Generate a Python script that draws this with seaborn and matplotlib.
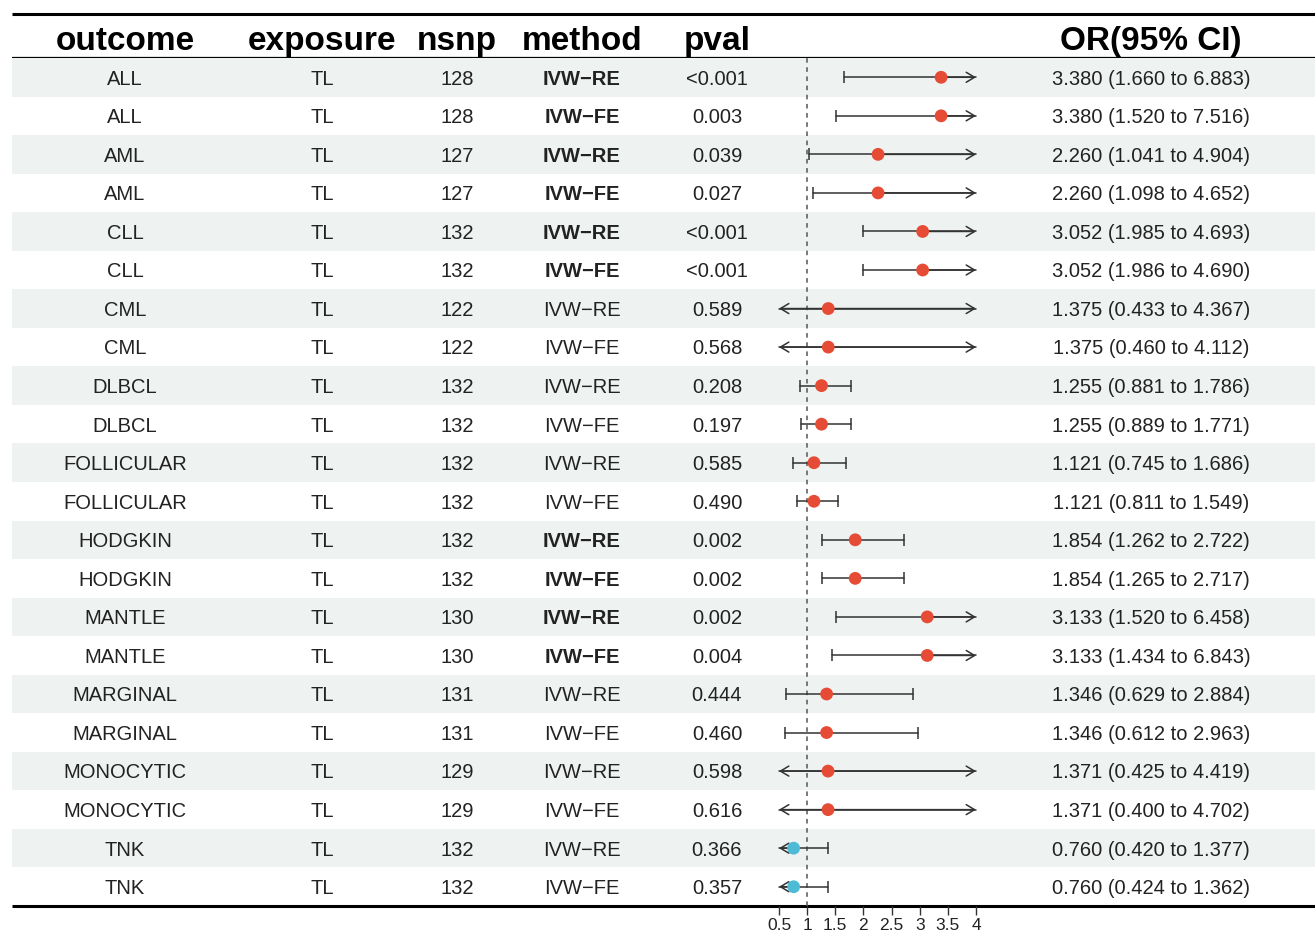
import numpy as np
import pandas as pd
import matplotlib
matplotlib.use("Agg")
import matplotlib.pyplot as plt
import seaborn as sns

outcome = ["ALL", "ALL", "AML", "AML", "CLL", "CLL", "CML", "CML", "DLBCL", "DLBCL",
           "FOLLICULAR", "FOLLICULAR", "HODGKIN", "HODGKIN", "MANTLE", "MANTLE",
           "MARGINAL", "MARGINAL", "MONOCYTIC", "MONOCYTIC", "TNK", "TNK"]
exposure = ["TL"] * 22
nsnp = [128, 128, 127, 127, 132, 132, 122, 122, 132, 132, 132, 132,
        132, 132, 130, 130, 131, 131, 129, 129, 132, 132]
method = ["IVW\u2212RE", "IVW\u2212FE"] * 11
pval = ["<0.001", "0.003", "0.039", "0.027", "<0.001", "<0.001", "0.589", "0.568",
        "0.208", "0.197", "0.585", "0.490", "0.002", "0.002", "0.002", "0.004",
        "0.444", "0.460", "0.598", "0.616", "0.366", "0.357"]
odds = [3.380, 3.380, 2.260, 2.260, 3.052, 3.052, 1.375, 1.375, 1.255, 1.255, 1.121,
        1.121, 1.854, 1.854, 3.133, 3.133, 1.346, 1.346, 1.371, 1.371, 0.760, 0.760]
lower = [1.660, 1.520, 1.041, 1.098, 1.985, 1.986, 0.433, 0.460, 0.881, 0.889, 0.745,
         0.811, 1.262, 1.265, 1.520, 1.434, 0.629, 0.612, 0.425, 0.400, 0.420, 0.424]
upper = [6.883, 7.516, 4.904, 4.652, 4.693, 4.690, 4.367, 4.112, 1.786, 1.771, 1.686,
         1.549, 2.722, 2.717, 6.458, 6.843, 2.884, 2.963, 4.419, 4.702, 1.377, 1.362]
xticks = [0.5, 1, 1.5, 2, 2.5, 3, 3.5, 4]
xtick_labels = ["0.5", "1", "1.5", "2", "2.5", "3", "3.5", "4"]

df = pd.DataFrame({"outcome": outcome, "exposure": exposure, "nsnp": nsnp,
                   "method": method, "pval": pval, "OR": odds,
                   "lo": lower, "hi": upper})
df["row"] = np.arange(len(df))
df["sig"] = [p.startswith("<") or float(p) < 0.05 for p in df["pval"]]
df["dir"] = np.where(df["OR"] > 1, "up", "down")
df["label"] = [f"{o:.3f} ({l:.3f} to {h:.3f})" for o, l, h in zip(df.OR, df.lo, df.hi)]

sns.set_theme(style="white")
plt.rcParams['font.family'] = ['Liberation Sans', 'DejaVu Sans']

W, H = 1315, 936
n = len(df)
top, bottom = 58, 906
xmin, xmax = 0.5, 4

fig = plt.figure(figsize=(W / 100, H / 100), dpi=100)

# frame axes in pixels for rules and header
frame = fig.add_axes([0, 0, 1, 1])
frame.set_xlim(0, W)
frame.set_ylim(H, 0)
frame.axis("off")

# table body axes, y in row units
tab = fig.add_axes([0, (H - bottom) / H, 1, (bottom - top) / H])
tab.set_xlim(0, W)
tab.set_ylim(n - 0.5, -0.5)
tab.axis("off")

for i in range(0, n, 2):
    tab.axhspan(i - 0.5, i + 0.5, xmin=12 / W, xmax=1, color="#EEF2F1", lw=0)

frame.hlines([14, bottom], 12, W, color="black", lw=2.2)
frame.hlines(top, 12, W, color="black", lw=1.6)

cols = [("outcome", 125), ("exposure", 322), ("nsnp", 457), ("method", 582), ("pval", 717)]
for name, x in cols:
    frame.text(x, 50, name, ha="center", va="baseline", fontsize=24, fontweight="bold", color="black")
frame.text(1151, 50, "OR(95% CI)", ha="center", va="baseline", fontsize=24,
           fontweight="bold", color="black")

# baseline shift so the capitals sit centred in each row
shift = 0.19
txt = dict(ha="center", va="baseline", fontsize=14.5, color="#222222")
for r in df.itertuples():
    y = r.row + shift
    tab.text(125, y, r.outcome, **txt)
    tab.text(322, y, r.exposure, **txt)
    tab.text(457, y, str(r.nsnp), **txt)
    tab.text(582, y, r.method, fontweight="bold" if r.sig else "normal", **txt)
    tab.text(717, y, r.pval, **txt)
    tab.text(1151, y, r.label, **txt)

# forest panel
fa = fig.add_axes([779 / W, (H - bottom) / H, (976 - 779) / W, (bottom - top) / H])
fa.patch.set_alpha(0)
fa.set_xlim(xmin, xmax)
fa.set_ylim(n - 0.5, -0.5)
for s in fa.spines.values():
    s.set_visible(False)
fa.axvline(1, color="#555555", lw=1.1, ls=(0, (3, 3)), zorder=1)

ci_col = "#333333"
arrow = dict(arrowstyle="->,head_length=0.5,head_width=0.3",
             color=ci_col, lw=1.1, shrinkA=0, shrinkB=0)
for r in df.itertuples():
    lo_c = max(r.lo, xmin)
    hi_c = min(r.hi, xmax)
    fa.plot([lo_c, hi_c], [r.row, r.row], color=ci_col, lw=1.1, clip_on=False, zorder=2)
    if r.lo >= xmin:
        fa.plot([r.lo], [r.row], marker="|", ms=8, mew=1.1, color=ci_col, clip_on=False, zorder=2)
    else:
        fa.annotate("", xy=(xmin, r.row), xytext=(r.OR, r.row), annotation_clip=False,
                    arrowprops=arrow)
    if r.hi <= xmax:
        fa.plot([r.hi], [r.row], marker="|", ms=8, mew=1.1, color=ci_col, clip_on=False, zorder=2)
    else:
        fa.annotate("", xy=(xmax, r.row), xytext=(r.OR, r.row), annotation_clip=False,
                    arrowprops=arrow)

sns.scatterplot(data=df, x="OR", y="row", hue="dir",
                palette={"up": "#E64B35", "down": "#4DBBD5"},
                s=85, edgecolor="none", legend=False, ax=fa, zorder=3, clip_on=False)
fa.set_xlabel("")
fa.set_ylabel("")
fa.set_xlim(xmin, xmax)
fa.set_ylim(n - 0.5, -0.5)
fa.set_yticks([])
fa.set_xticks(xticks)
fa.set_xticklabels(xtick_labels, fontsize=12.5, color="#222222")
fa.tick_params(axis="x", bottom=True, direction="out", length=6.5, width=1,
               color="#333333", pad=2)

fig.savefig("out.png", dpi=100)
